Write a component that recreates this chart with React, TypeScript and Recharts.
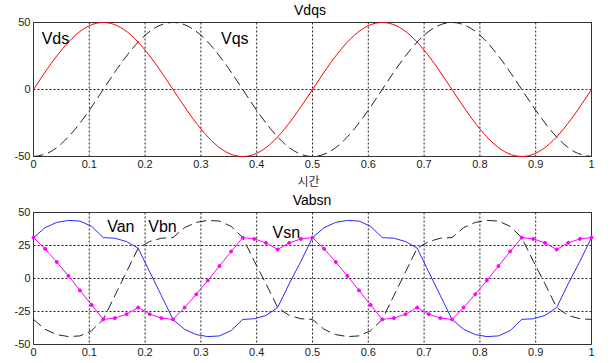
import React from 'react';
import {
  LineChart,
  Line,
  XAxis,
  YAxis,
  CartesianGrid,
  ReferenceArea,
  ReferenceDot,
} from 'recharts';

// top plot: d/q voltages, sampled every 0.025 s
const timeTop = [
  0, 0.025, 0.05, 0.075, 0.1, 0.125, 0.15, 0.175, 0.2, 0.225, 0.25, 0.275, 0.3, 0.325, 0.35, 0.375, 0.4, 0.425,
  0.45, 0.475, 0.5, 0.525, 0.55, 0.575, 0.6, 0.625, 0.65, 0.675, 0.7, 0.725, 0.75, 0.775, 0.8, 0.825, 0.85,
  0.875, 0.9, 0.925, 0.95, 0.975, 1,
];
const vds = [
  0, 15.5, 29.4, 40.5, 47.6, 50, 47.6, 40.5, 29.4, 15.5, 0, -15.5, -29.4, -40.5, -47.6, -50, -47.6, -40.5, -29.4,
  -15.5, 0, 15.5, 29.4, 40.5, 47.6, 50, 47.6, 40.5, 29.4, 15.5, 0, -15.5, -29.4, -40.5, -47.6, -50, -47.6, -40.5,
  -29.4, -15.5, 0,
];
const vqs = [
  -50, -47.6, -40.5, -29.4, -15.5, 0, 15.5, 29.4, 40.5, 47.6, 50, 47.6, 40.5, 29.4, 15.5, 0, -15.5, -29.4, -40.5,
  -47.6, -50, -47.6, -40.5, -29.4, -15.5, 0, 15.5, 29.4, 40.5, 47.6, 50, 47.6, 40.5, 29.4, 15.5, 0, -15.5, -29.4,
  -40.5, -47.6, -50,
];

// bottom plot: phase voltages, sampled every 1/48 s
const timeBottom = [
  0, 0.0208, 0.0417, 0.0625, 0.0833, 0.1042, 0.125, 0.1458, 0.1667, 0.1875, 0.2083, 0.2292, 0.25, 0.2708, 0.2917,
  0.3125, 0.3333, 0.3542, 0.375, 0.3958, 0.4167, 0.4375, 0.4583, 0.4792, 0.5, 0.5208, 0.5417, 0.5625, 0.5833,
  0.6042, 0.625, 0.6458, 0.6667, 0.6875, 0.7083, 0.7292, 0.75, 0.7708, 0.7917, 0.8125, 0.8333, 0.8542, 0.875,
  0.8958, 0.9167, 0.9375, 0.9583, 0.9792, 1,
];
const van = [
  31, 38.5, 42.5, 44, 43.5, 39.5, 31, 30.5, 28, 23, 5, -13, -31, -38.5, -42.5, -44, -43.5, -39.5, -31, -30.5, -28,
  -22, -4, 13, 31, 38.5, 42.5, 44, 43.5, 39.5, 31, 30.5, 28, 23, 5, -13, -31, -38.5, -42.5, -44, -43.5, -39.5, -31,
  -30.5, -28, -22, -4, 13, 31,
];
const vbn = [
  -31, -38.5, -42.5, -44, -43.5, -39.5, -31, -13, 5, 23, 28, 30.5, 31, 38.5, 42.5, 44, 43.5, 39.5, 31, 13, -4, -22,
  -28, -30.5, -31, -38.5, -42.5, -44, -43.5, -39.5, -31, -13, 5, 23, 28, 30.5, 31, 38.5, 42.5, 44, 43.5, 39.5, 31,
  13, -4, -22, -28, -30.5, -31,
];
const vsn = [
  31, 22.5, 12.5, 2, -9, -20, -31, -30, -27, -22, -27, -30, -31, -22, -12, -1.5, 9.5, 20.5, 31, 30, 27, 22, 27, 30,
  31, 22.5, 12.5, 2, -9, -20, -31, -30, -27, -22, -27, -30, -31, -22, -12, -1.5, 9.5, 20.5, 31, 30, 27, 22, 27, 30,
  31,
];

const xTicks = [0, 0.1, 0.2, 0.3, 0.4, 0.5, 0.6, 0.7, 0.8, 0.9, 1];
const yTicksTop = [-50, 0, 50];
const yTicksBottom = [-50, -25, 0, 25, 50];

const topData = timeTop.map((t, i) => ({ t, vds: vds[i], vqs: vqs[i] }));
const bottomData = timeBottom.map((t, i) => ({ t, van: van[i], vbn: vbn[i], vsn: vsn[i] }));

const tickStyle = { fill: '#1a1a1a', fontSize: 11 };
const nameLabel = (value: string) => ({ value, position: 'right' as const, offset: 0, fill: '#000', fontSize: 16 });

const titleStyle: React.CSSProperties = {
  position: 'absolute',
  width: 100,
  textAlign: 'center',
  fontSize: 14,
  lineHeight: '14px',
  color: '#000',
};

export default function App() {
  return (
    <div
      style={{
        position: 'absolute',
        left: 0,
        top: 0,
        width: 610,
        height: 363,
        background: '#fff',
        fontFamily: '"Liberation Sans", Arial, sans-serif',
      }}
    >
      <div style={{ position: 'absolute', left: 0, top: 0 }}>
        <LineChart width={610} height={190} data={topData} margin={{ top: 22.5, right: 18.5, bottom: 0, left: 0.5 }}>
          <CartesianGrid stroke="#222" strokeDasharray="2 2" />
          <XAxis
            dataKey="t"
            type="number"
            domain={[0, 1]}
            ticks={xTicks}
            interval={0}
            tickLine={false}
            axisLine={false}
            tickSize={0}
            tickMargin={4}
            height={33.5}
            tick={tickStyle}
            label={{
              value: '시간',
              position: 'insideBottom',
              offset: 4,
              dx: -4,
              fill: '#333',
              fontSize: 12,
              fontFamily: '"Noto Sans CJK KR", sans-serif',
            }}
          />
          <YAxis
            type="number"
            domain={[-50, 50]}
            ticks={yTicksTop}
            interval={0}
            width={33}
            tickLine={false}
            axisLine={false}
            tickSize={0}
            tickMargin={3}
            tick={tickStyle}
          />
          <ReferenceArea x1={0} x2={1} y1={-50} y2={50} fill="none" stroke="#333" strokeWidth={1} ifOverflow="visible" />
          <Line dataKey="vds" type="natural" stroke="#ff0000" strokeWidth={1} dot={false} isAnimationActive={false} />
          <Line
            dataKey="vqs"
            type="natural"
            stroke="#222"
            strokeWidth={1}
            strokeDasharray="10 5"
            dot={false}
            isAnimationActive={false}
          />
          <ReferenceDot x={0.0147} y={38} r={0} label={nameLabel('Vds')} />
          <ReferenceDot x={0.336} y={38} r={0} label={nameLabel('Vqs')} />
        </LineChart>
      </div>
      <div style={{ ...titleStyle, left: 260, top: 3 }}>Vdqs</div>

      <div style={{ position: 'absolute', left: 0, top: 190 }}>
        <LineChart width={610} height={173} data={bottomData} margin={{ top: 22.5, right: 18.5, bottom: 0, left: 0.5 }}>
          <CartesianGrid stroke="#222" strokeDasharray="2 2" />
          <XAxis
            dataKey="t"
            type="number"
            domain={[0, 1]}
            ticks={xTicks}
            interval={0}
            tickLine={false}
            axisLine={false}
            tickSize={0}
            tickMargin={4}
            height={18.5}
            tick={tickStyle}
          />
          <YAxis
            type="number"
            domain={[-50, 50]}
            ticks={yTicksBottom}
            interval={0}
            width={33}
            tickLine={false}
            axisLine={false}
            tickSize={0}
            tickMargin={3}
            tick={tickStyle}
          />
          <ReferenceArea x1={0} x2={1} y1={-50} y2={50} fill="none" stroke="#333" strokeWidth={1} ifOverflow="visible" />
          <Line dataKey="van" type="linear" stroke="#2a2aff" strokeWidth={1} dot={false} isAnimationActive={false} />
          <Line
            dataKey="vbn"
            type="linear"
            stroke="#222"
            strokeWidth={1}
            strokeDasharray="10 5"
            dot={false}
            isAnimationActive={false}
          />
          <Line
            dataKey="vsn"
            type="linear"
            stroke="#ff00ff"
            strokeWidth={1}
            dot={{ r: 1.5, fill: '#ff00ff', stroke: '#ff00ff', strokeWidth: 1 }}
            isAnimationActive={false}
          />
          <ReferenceDot x={0.132} y={39.6} r={0} label={nameLabel('Van')} />
          <ReferenceDot x={0.2056} y={39.6} r={0} label={nameLabel('Vbn')} />
          <ReferenceDot x={0.4284} y={35} r={0} label={nameLabel('Vsn')} />
        </LineChart>
      </div>
      <div style={{ ...titleStyle, left: 262, top: 193 }}>Vabsn</div>
    </div>
  );
}
